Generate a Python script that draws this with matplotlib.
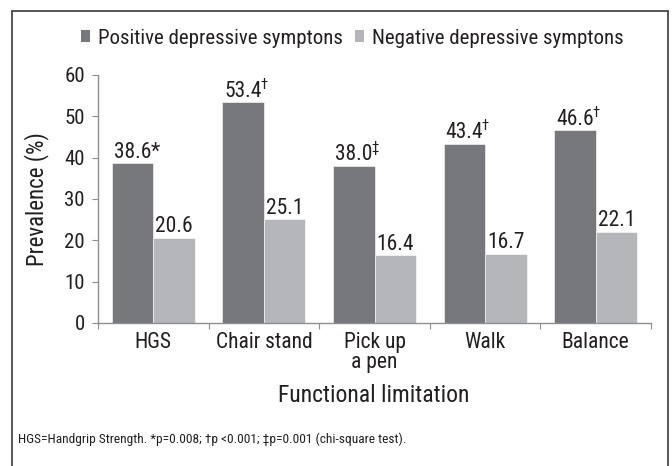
import matplotlib
matplotlib.use("Agg")
import matplotlib.pyplot as plt
from matplotlib.patches import Patch, Rectangle

# data
categories = ["HGS", "Chair stand", "Pick up\na pen", "Walk", "Balance"]
positive = [38.6, 53.4, 38.0, 43.4, 46.6]
negative = [20.6, 25.1, 16.4, 16.7, 22.1]
pos_marks = ["*", "\u2020", "\u2021", "\u2020", "\u2020"]
series_names = ["Positive depressive symptons", "Negative depressive symptons"]
footnote = ("HGS=Handgrip Strength. *p=0.008; \u2020p <0.001; "
            "\u2021p=0.001 (chi-square test).")

plt.rcParams['font.family'] = ['Roboto Condensed', 'Liberation Sans', 'DejaVu Sans']
dark = "#77787c"
light = "#b4b6b9"
txt = "#231f20"
axc = "#8f8f8f"

fig = plt.figure(figsize=(6.72, 4.66), dpi=100)
ax = fig.add_axes([98/672, 1 - 323/466, 553/672, 248/466])

w = 0.375
xs = list(range(len(categories)))
b1 = ax.bar([x - w/2 for x in xs], positive, w, color=dark, edgecolor="white", linewidth=0.4)
b2 = ax.bar([x + w/2 for x in xs], negative, w, color=light, edgecolor="white", linewidth=0.4)

# value labels, with superscript marks on the positive series
for rect, v, m in zip(b1, positive, pos_marks):
    t = ax.annotate(f"{v:.1f}", (rect.get_x() + rect.get_width()/2, v),
                    xytext=(0, 0.5), textcoords="offset points",
                    ha="center", va="bottom", fontsize=15.5, color=txt)
    if m == "*":
        ax.annotate(m, xy=(1, 0), xycoords=t, xytext=(-0.5, 0), textcoords="offset points",
                    ha="left", va="bottom", fontsize=15.5, color=txt)
    else:
        ax.annotate(m, xy=(1, 1), xycoords=t, xytext=(-1, 2), textcoords="offset points",
                    ha="left", va="top", fontsize=10.5, color=txt)
for rect, v in zip(b2, negative):
    ax.annotate(f"{v:.1f}", (rect.get_x() + rect.get_width()/2, v),
                xytext=(0, 0.5), textcoords="offset points",
                ha="center", va="bottom", fontsize=15.5, color=txt)

ax.set_xlim(-0.5, len(categories) - 0.5)
ax.set_ylim(0, 60)
ax.set_yticks(range(0, 61, 10))
ax.set_xticks([x - 0.5 for x in range(len(categories) + 1)])
ax.set_xticklabels([])
ax.set_xticks(xs, minor=True)
ax.set_xticklabels(categories, minor=True, fontsize=15.5, color=txt, linespacing=0.95)
ax.tick_params(axis="x", which="major", length=4, color=axc, direction="out")
ax.tick_params(axis="x", which="minor", length=0, pad=6.5)
ax.tick_params(axis="y", length=4, color=axc, pad=5.5, labelsize=15, labelcolor=txt)

for s in ["top", "right"]:
    ax.spines[s].set_visible(False)
for s in ["left", "bottom"]:
    ax.spines[s].set_color(axc)
    ax.spines[s].set_linewidth(1)

fig.text(37/672, 1 - 199/466, "Prevalence (%)", rotation=90, ha="center", va="center",
         fontsize=16.5, color=txt)
fig.text(374/672, 1 - 396/466, "Functional limitation", ha="center", va="center",
         fontsize=17, color=txt)

handles = [Patch(facecolor=dark), Patch(facecolor=light)]
fig.legend(handles, series_names, loc="center", bbox_to_anchor=(352/672, 1 - 38/466),
           ncol=2, frameon=False, fontsize=15, handlelength=0.45, handleheight=0.45,
           handletextpad=0.35, columnspacing=0.6, labelcolor=txt)

fig.text(18/672, 1 - 439/466, footnote, ha="left", va="center", fontsize=9.6, color=txt)

# outer frame (open at the bottom edge of the image)
fig.patches.append(Rectangle((12/672, -0.05), 656/672, 1.05 - 11/466, fill=False,
                             edgecolor="#3a3a3a", linewidth=1.2,
                             transform=fig.transFigure, figure=fig))

fig.savefig("out.png", dpi=100)
